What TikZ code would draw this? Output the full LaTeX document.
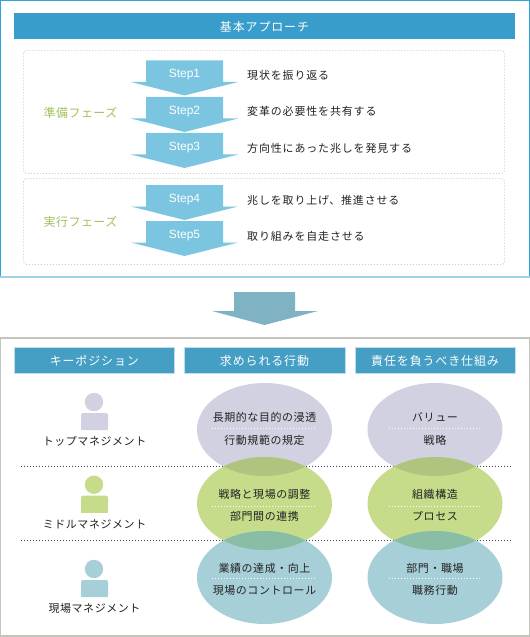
\documentclass[tikz,border=0pt]{standalone}
\usepackage{fontspec}
\setmainfont{Liberation Sans}
\newfontfamily\jpa[LetterSpace=8]{Noto Sans CJK JP}
\newfontfamily\jpc[LetterSpace=5.5]{Noto Sans CJK JP}
\newfontfamily\jpb[LetterSpace=7.5]{Noto Sans CJK JP}
\newfontfamily\jpd[LetterSpace=4]{Noto Sans CJK JP}
\definecolor{frameblue}{HTML}{2EA7D6}
\definecolor{framelight}{HTML}{9FD2E8}
\definecolor{headblue}{HTML}{399DCB}
\definecolor{head2}{HTML}{459FC4}
\definecolor{head2edge}{HTML}{BFDDEA}
\definecolor{steparrow}{HTML}{7BC5E0}
\definecolor{bigarrow}{HTML}{7FB3C3}
\definecolor{graybox}{HTML}{C4C4BC}
\definecolor{dashgray}{HTML}{CCCCCC}
\definecolor{phase}{HTML}{A4C05A}
\definecolor{cpurple}{HTML}{D1D1E1}
\definecolor{cgreen}{HTML}{C6DC8A}
\definecolor{cblue}{HTML}{A7CFD8}
\definecolor{ovpg}{HTML}{AFC57F}
\definecolor{ovgb}{HTML}{8ABDA6}
\definecolor{ink}{HTML}{222222}
\tikzset{
 x=1bp,y=-1bp,
 headbar/.style={fill=headblue,text=white,font=\fontsize{12}{13}\jpb,inner sep=0pt,anchor=center},
 headbarb/.style={fill=head2,draw=head2edge,line width=.7bp},
 stagebox/.style={draw=dashgray,line width=.9bp,dash pattern=on 1bp off 2bp,rounded corners=3bp},
 stepshape/.style={fill=steparrow},
 steplabel/.style={text=white,font=\fontsize{12}{14}\selectfont,inner sep=0pt},
 desc/.style={text=ink,font=\fontsize{11}{12}\jpa,inner sep=0pt,anchor=west},
 phaselabel/.style={text=phase,font=\fontsize{12}{13}\jpd,inner sep=0pt},
 ctr/.style={text=ink,font=\fontsize{11}{12}\jpc,inner sep=0pt},
 sep/.style={draw=white,line width=1bp,dash pattern=on 1bp off 2bp},
 rowline/.style={draw=ink!85,line width=1bp,dash pattern=on 1bp off 2bp},
}
\newcommand{\steparrowat}[3]{% top, name, text
 \fill[stepshape] (146,#1) -- (223,#1) -- (223,#1+21.5) -- (238,#1+21.5) -- (184.5,#1+35) -- (131,#1+21.5) -- (146,#1+21.5) -- cycle;
 \node[steplabel] (#2) at (184.5,#1+14.5) {#3};
}
\newcommand{\person}[2]{% head centre y, colour
 \fill[#2] (94,#1) circle (9.2);
 \fill[#2,rounded corners=2bp] (81,#1+28) -- (81,#1+11) -- (108,#1+11) -- (108,#1+28) -- cycle;
 \fill[#2] (81,#1+22) rectangle (108,#1+28);
}
\begin{document}
\begin{tikzpicture}
\useasboundingbox (0,0) rectangle (530,637);
\fill[white] (0,0) rectangle (530,637);
% top frame
\draw[frameblue,line width=1.4bp] (0.7,277) -- (0.7,0.7) -- (529.3,0.7) -- (529.3,277);
\draw[framelight,line width=1.6bp] (0,277) -- (530,277);
\fill[headblue] (14,13) rectangle (515,39);
\node[headbar] (title) at (264.5,26.5) {基本アプローチ};
\draw[stagebox] (23.5,50.5) rectangle (504.5,173.5);
\draw[stagebox] (23.5,178.5) rectangle (504.5,264.5);
\node[phaselabel] (ph1) at (80.5,112.5) {準備フェーズ};
\node[phaselabel] (ph2) at (80.5,221.5) {実行フェーズ};
\steparrowat{60.5}{s1}{Step1}
\steparrowat{97}{s2}{Step2}
\steparrowat{133}{s3}{Step3}
\steparrowat{185}{s4}{Step4}
\steparrowat{221}{s5}{Step5}
\node[desc] (d1) at (247,75.5) {現状を振り返る};
\node[desc] (d2) at (247,111.5) {変革の必要性を共有する};
\node[desc] (d3) at (247,148.5) {方向性にあった兆しを発見する};
\node[desc] (d4) at (247,200.5) {兆しを取り上げ、推進させる};
\node[desc] (d5) at (247,236.5) {取り組みを自走させる};
% big arrow
\fill[bigarrow] (234,292) -- (295,292) -- (295,311) -- (318,311) -- (264.5,325) -- (212,311) -- (234,311) -- cycle;
% bottom frame
\draw[graybox,line width=1.2bp] (0.6,338) rectangle (529.4,636);
\draw[headbarb] (14.3,347.3) rectangle (174.3,373.3);
\draw[headbarb] (184.3,347.3) rectangle (345,373.3);
\draw[headbarb] (355,347.3) rectangle (515,373.3);
\node[headbar,fill=none] (h1) at (94.3,361) {キーポジション};
\node[headbar,fill=none] (h2) at (264.5,361) {求められる行動};
\node[headbar,fill=none] (h3) at (435,361) {責任を負うべき仕組み};
% row lines
\draw[rowline] (21,466.5) -- (511,466.5);
\draw[rowline] (21,540.5) -- (511,540.5);
% ellipses
\foreach \cx in {264.5,435}{
 \fill[cpurple] (\cx,429.5) ellipse (67.5 and 46.5);
 \fill[cgreen] (\cx,503.5) ellipse (67.5 and 46.5);
 \fill[cblue] (\cx,577.5) ellipse (67.5 and 46.5);
 \begin{scope}\clip (\cx,429.5) ellipse (67.5 and 46.5);
  \fill[ovpg] (\cx,503.5) ellipse (67.5 and 46.5);
 \end{scope}
 \begin{scope}\clip (\cx,503.5) ellipse (67.5 and 46.5);
  \fill[ovgb] (\cx,577.5) ellipse (67.5 and 46.5);
 \end{scope}
}
\draw[sep] (212,428.5) -- (316,428.5);
\draw[sep] (212,506.5) -- (316,506.5);
\draw[sep] (212,578.5) -- (316,578.5);
\draw[sep] (389,428.5) -- (480,428.5);
\draw[sep] (389,506.5) -- (480,506.5);
\draw[sep] (389,578.5) -- (480,578.5);
\node[ctr] (a1) at (264.5,417.5) {長期的な目的の浸透};
\node[ctr] (a2) at (264.5,440) {行動規範の規定};
\node[ctr] (b1) at (264.5,494.5) {戦略と現場の調整};
\node[ctr] (b2) at (264.5,516.5) {部門間の連携};
\node[ctr] (c1) at (264.5,568.5) {業績の達成・向上};
\node[ctr] (c2) at (264.5,590.5) {現場のコントロール};
\node[ctr] (e1) at (435,417.5) {バリュー};
\node[ctr] (e2) at (435,440) {戦略};
\node[ctr] (f1) at (435,494.5) {組織構造};
\node[ctr] (f2) at (435,516.5) {プロセス};
\node[ctr] (g1) at (435,568.5) {部門・職場};
\node[ctr] (g2) at (435,590.5) {職務行動};
% persons
\person{402}{cpurple}
\person{484.7}{cgreen}
\person{569}{cblue}
\node[ctr] (p1) at (94.5,441.5) {トップマネジメント};
\node[ctr] (p2) at (94.5,524.5) {ミドルマネジメント};
\node[ctr] (p3) at (94.5,608.5) {現場マネジメント};
\end{tikzpicture}
\end{document}
